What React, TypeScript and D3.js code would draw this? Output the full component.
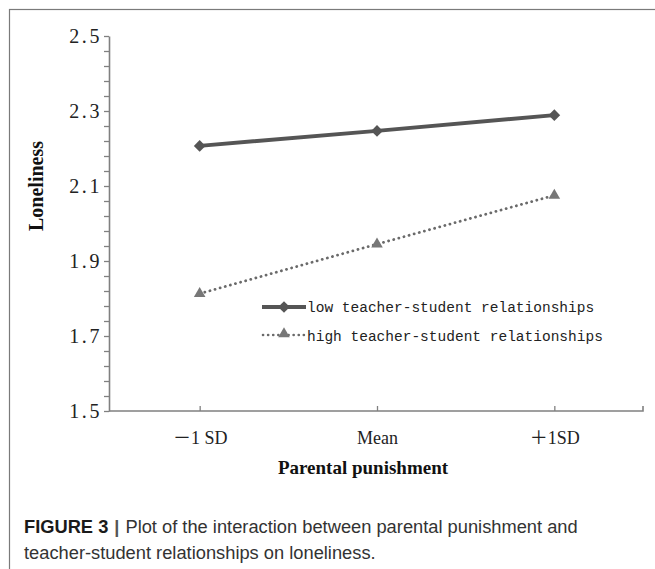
import React, { FC, useEffect, useRef, useMemo } from 'react'
import * as d3 from 'd3'

// levels of parental punishment
const categories = ['－1 SD', 'Mean', '＋1SD']
// loneliness means
const lowValues = [2.207, 2.247, 2.289]
const highValues = [1.813, 1.945, 2.075]
const seriesNames = ['low teacher-student relationships', 'high teacher-student relationships']
const yMajorTicks = [1.5, 1.7, 1.9, 2.1, 2.3, 2.5]
const yMinorTicks = d3.range(1.54, 2.5, 0.04).filter((v) => Math.abs(((v - 1.5) / 0.2) - Math.round((v - 1.5) / 0.2)) > 0.01)

const WIDTH = 655
const HEIGHT = 569
const AXIS_X = 109
const AXIS_Y = 411

const serif = '"Liberation Serif", "Times New Roman", "Noto Sans CJK SC", serif'
const mono = '"Liberation Mono", "DejaVu Sans Mono", monospace'
const sans = '"Liberation Sans", Arial, sans-serif'

const App: FC = () => {
	const xAxis = useRef<SVGGElement>(null)
	const yAxis = useRef<SVGGElement>(null)
	const yMinor = useRef<SVGGElement>(null)

	const xScale = useMemo(() => {
		return d3.scalePoint<string>().domain(categories).range([AXIS_X + 2, 643]).padding(0.5)
	}, [])

	const yScale = useMemo(() => {
		return d3.scaleLinear().domain([1.5, 2.5]).range([AXIS_Y, 36])
	}, [])

	useEffect(() => {
		if (xAxis.current) {
			const ax = d3.axisBottom(xScale).tickSizeInner(-5).tickSizeOuter(-5).tickPadding(20)
			const g = d3.select(xAxis.current).call(ax)
			g.select('.domain').attr('d', `M${AXIS_X},0H643V-5`).attr('stroke', '#808080').attr('stroke-width', 1.6)
			g.selectAll('.tick line').attr('stroke', '#808080').attr('stroke-width', 1.3)
			g.selectAll('.tick text')
				.attr('font-family', serif)
				.attr('font-size', 18)
				.attr('fill', '#222')
		}
	}, [xScale])

	useEffect(() => {
		if (yAxis.current) {
			const ax = d3
				.axisLeft(yScale)
				.tickValues(yMajorTicks)
				.tickSize(5)
				.tickSizeOuter(0)
				.tickPadding(2)
				.tickFormat((d) => d3.format('.1f')(d as number))
			const g = d3.select(yAxis.current).call(ax)
			g.select('.domain').attr('stroke', '#808080').attr('stroke-width', 1.6)
			g.selectAll('.tick line').attr('stroke', '#808080').attr('stroke-width', 1.3)
			g.selectAll('.tick text')
				.attr('font-family', serif)
				.attr('font-size', 20)
				.attr('letter-spacing', 2.6)
				.attr('fill', '#222')
		}
		if (yMinor.current) {
			const ax = d3.axisLeft(yScale).tickValues(yMinorTicks).tickSize(5).tickSizeOuter(0).tickFormat(() => '')
			const g = d3.select(yMinor.current).call(ax)
			g.select('.domain').remove()
			g.selectAll('.tick line').attr('stroke', '#808080').attr('stroke-width', 1.3)
		}
	}, [yScale])

	const line = d3
		.line<number>()
		.x((_, i) => xScale(categories[i]) as number)
		.y((d) => yScale(d))

	const diamond = d3.symbol().type(d3.symbolSquare).size(68)()
	const triangle = d3.symbol().type(d3.symbolTriangle).size(58)()

	return (
		<svg
			width={WIDTH}
			height={HEIGHT}
			style={{ position: 'absolute', left: 0, top: 0, background: '#fff' }}
		>
			<rect x={9.5} y={9.5} width={700} height={700} fill="none" stroke="#7a7a7a" strokeWidth={1.2} />

			<g ref={yMinor} transform={`translate(${AXIS_X}, 0)`}></g>
			<g ref={yAxis} transform={`translate(${AXIS_X}, 0)`}></g>
			<g ref={xAxis} transform={`translate(0, ${AXIS_Y})`}></g>

			{/* 主图 */}
			<path d={line(highValues) || ''} fill="none" stroke="#6a6a6a" strokeWidth={2.8} strokeDasharray="0.1 5.2" strokeLinecap="round" />
			{highValues.map((d, i) => (
				<path key={i} d={triangle || ''} fill="#777" transform={`translate(${xScale(categories[i])}, ${yScale(d)})`} />
			))}
			<path d={line(lowValues) || ''} fill="none" stroke="#555" strokeWidth={4} />
			{lowValues.map((d, i) => (
				<path key={i} d={diamond || ''} fill="#555" transform={`translate(${xScale(categories[i])}, ${yScale(d)}) rotate(45)`} />
			))}

			{/* legend */}
			<g>
				<line x1={262} x2={306} y1={307} y2={307} stroke="#555" strokeWidth={4} />
				<path d={diamond || ''} fill="#555" transform="translate(284, 307) rotate(45)" />
				<text x={307} y={307} dy="0.32em" fontFamily={mono} fontSize={14.5} fill="#222">
					{seriesNames[0]}
				</text>
				<line x1={263} x2={305} y1={335} y2={335} stroke="#6a6a6a" strokeWidth={2.6} strokeDasharray="0.1 5" strokeLinecap="round" />
				<path d={triangle || ''} fill="#777" transform="translate(284, 334)" />
				<text x={307} y={336} dy="0.32em" fontFamily={mono} fontSize={14.5} fill="#222">
					{seriesNames[1]}
				</text>
			</g>

			<text
				transform="translate(43, 186) rotate(-90)"
				textAnchor="middle"
				fontFamily={serif}
				fontWeight="bold"
				fontSize={20}
				fill="#111"
			>
				Loneliness
			</text>
			<text x={363} y={474} textAnchor="middle" fontFamily={serif} fontWeight="bold" fontSize={19}
				fill="#111">
				Parental punishment
			</text>

			<text x={24} y={533} fontFamily={sans} fontSize={18.3} fill="#333">
				<tspan fontWeight="bold" fill="#1a1a1a">FIGURE 3</tspan>
				<tspan dx={6} fill="#555" fontWeight="bold">|</tspan>
				<tspan dx={6}>Plot of the interaction between parental punishment and</tspan>
			</text>
			<text x={24} y={559} fontFamily={sans} fontSize={18.3} fill="#333">
				teacher-student relationships on loneliness.
			</text>
		</svg>
	)
}

export default App
